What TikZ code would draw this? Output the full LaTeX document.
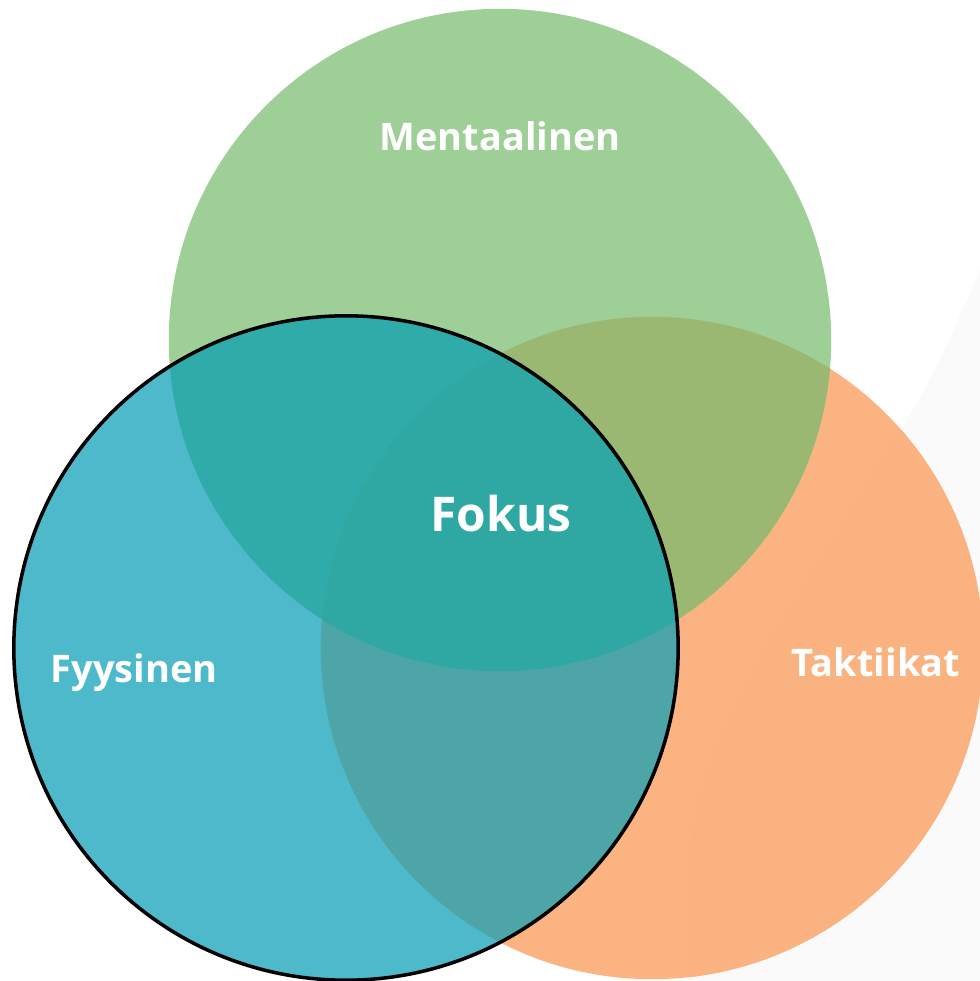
\documentclass[tikz,border=0pt]{standalone}
\usepackage{fontspec}
\setmainfont{Open Sans}
\definecolor{cgreen}{HTML}{9DCF96}
\definecolor{corange}{HTML}{FCB382}
\definecolor{corangegray}{HTML}{FBB281}
\definecolor{cblue}{HTML}{4EB9CA}
\definecolor{cbg}{HTML}{2FABAA}
\definecolor{cbo}{HTML}{4DA5A8}
\definecolor{cgo}{HTML}{9BB872}
\definecolor{cbgo}{HTML}{2FA8A4}
\definecolor{cpale}{HTML}{FAFAFA}
\begin{document}
\begin{tikzpicture}[x=0.01cm,y=-0.01cm,
  lbl/.style={text=white,font=\bfseries\fontsize{10.8}{13}\selectfont,anchor=base,inner sep=0pt},
  biglbl/.style={lbl,font=\bfseries\fontsize{13.6}{16}\selectfont}]
\fill[white] (0,0) rectangle (980,981);
\useasboundingbox (0,0) rectangle (980,981);
\coordinate (cg) at (500,340);
\coordinate (co) at (652,648);
\coordinate (cb) at (346,648);
\def\palepath{plot[smooth] coordinates {(980,268) (930,380) (840,530) (753,673) (703,787) (690,860) (688,920) (688,990)} -- (990,990) -- (990,268) -- cycle}
% faint background shape
\fill[cpale] \palepath;
% orange
\fill[corange] (co) circle[radius=3.31cm];
\begin{scope}
  \clip (co) circle[radius=3.31cm];
  \fill[corangegray] \palepath;
\end{scope}
% green
\fill[cgreen] (cg) circle[radius=3.31cm];
\begin{scope}
  \clip (cg) circle[radius=3.31cm];
  \fill[cgo] (co) circle[radius=3.31cm];
\end{scope}
% blue
\fill[cblue] (cb) circle[radius=3.32cm];
\begin{scope}
  \clip (cb) circle[radius=3.32cm];
  \fill[cbg] (cg) circle[radius=3.31cm];
  \fill[cbo] (co) circle[radius=3.31cm];
  \clip (cg) circle[radius=3.31cm];
  \fill[cbgo] (co) circle[radius=3.31cm];
\end{scope}
\draw[black,line width=1pt] (cb) circle[radius=3.32cm];
% labels
\node[lbl] (ment) at (500,150) {Mentaalinen};
\node[biglbl] (fok) at (501,531) {Fokus};
\node[lbl] (fyy) at (134,682) {Fyysinen};
\node[lbl] (tak) at (876,676) {Taktiikat};
\end{tikzpicture}
\end{document}
